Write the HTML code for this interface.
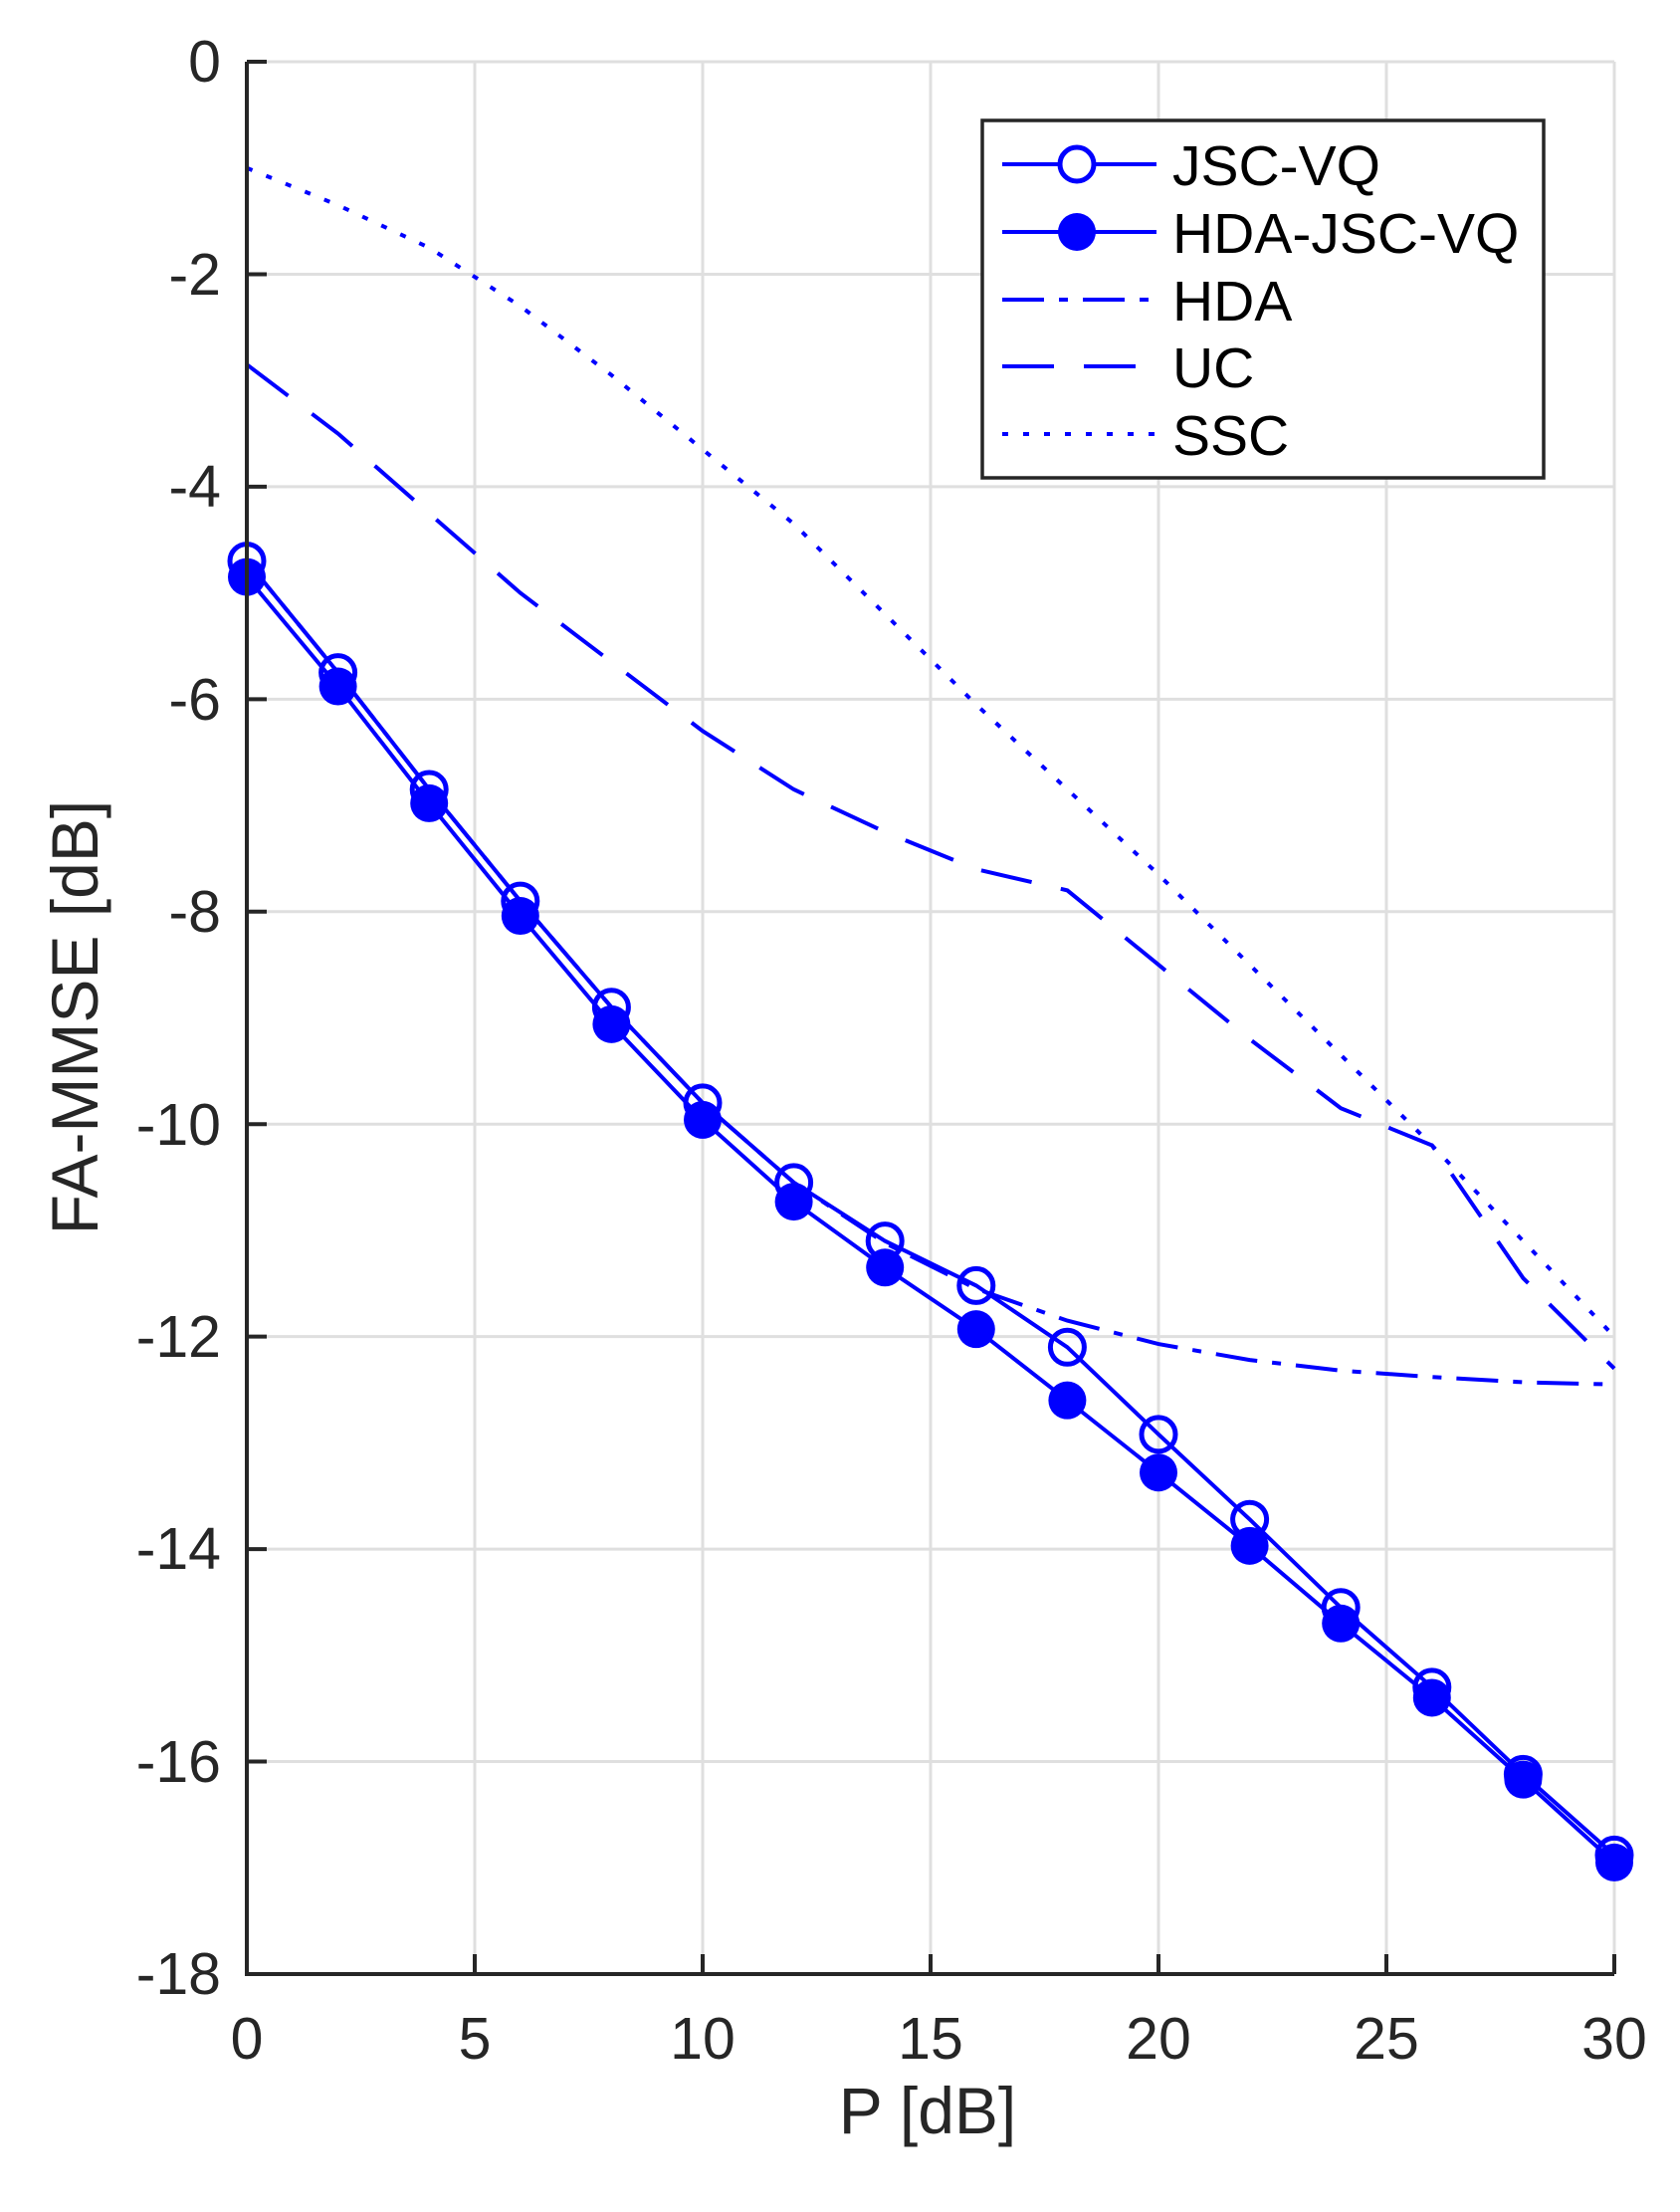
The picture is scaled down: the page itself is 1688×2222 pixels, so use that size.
<!DOCTYPE html>
<html><head><meta charset="utf-8"><style>
html,body{margin:0;padding:0;background:#fff;}
svg{display:block;font-family:"Liberation Sans",Arial,sans-serif;}
</style></head><body>
<svg id="s" width="1688" height="2222" viewBox="0 0 1688 2222" xmlns="http://www.w3.org/2000/svg">
<rect width="1688" height="2222" fill="#fff"/>
<g id="grid" stroke="#dfdfdf" stroke-width="3"></g>
<g id="data" fill="none" stroke="#0000ff" stroke-width="4"></g>
<g id="axes" stroke="#262626" stroke-width="4" fill="none"></g>
<g fill="#262626" font-size="59" text-anchor="end">
<text x="222" y="82">0</text>
<text x="222" y="296">-2</text>
<text x="222" y="509">-4</text>
<text x="222" y="723">-6</text>
<text x="222" y="936">-8</text>
<text x="222" y="1150">-10</text>
<text x="222" y="1363">-12</text>
<text x="222" y="1576">-14</text>
<text x="222" y="1790">-16</text>
<text x="222" y="2003">-18</text>
</g>
<g fill="#262626" font-size="59" text-anchor="middle">
<text x="248" y="2068">0</text>
<text x="477" y="2068">5</text>
<text x="706" y="2068">10</text>
<text x="935" y="2068">15</text>
<text x="1164" y="2068">20</text>
<text x="1393" y="2068">25</text>
<text x="1622" y="2068">30</text>
</g>
<text x="932" y="2143" font-size="66" fill="#262626" text-anchor="middle">P [dB]</text>
<text transform="translate(98,1022) rotate(-90)" font-size="66" fill="#262626" text-anchor="middle">FA-MMSE [dB]</text>
<rect x="987" y="121" width="564" height="359" fill="#fff" stroke="#262626" stroke-width="3.5"/>
<g stroke="#0000ff" stroke-width="4" fill="none">
<line x1="1007" y1="165" x2="1162" y2="165"/>
<circle cx="1082" cy="165" r="17" stroke-width="5" fill="#fff"/>
<line x1="1007" y1="233" x2="1162" y2="233"/>
<circle cx="1082" cy="233" r="19" fill="#0000ff" stroke="none"/>
<line x1="1007" y1="301" x2="1162" y2="301" stroke-dasharray="42,15,9,15"/>
<line x1="1007" y1="368" x2="1162" y2="368" stroke-dasharray="52,30"/>
<line x1="1007" y1="436" x2="1162" y2="436" stroke-dasharray="6,15"/>
</g>
<g fill="#000" font-size="57">
<text x="1178" y="186">JSC-VQ</text>
<text x="1178" y="254">HDA-JSC-VQ</text>
<text x="1178" y="322">HDA</text>
<text x="1178" y="389">UC</text>
<text x="1178" y="457">SSC</text>
</g>
</svg>
<script>
var NS="http://www.w3.org/2000/svg";
function X(x){return 248+x*45.8;}function Y(y){return 62-y*106.72;}
function el(p,t,a){var e=document.createElementNS(NS,t);for(var k in a)e.setAttribute(k,a[k]);document.getElementById(p).appendChild(e);return e;}
for(var i=1;i<=6;i++){el("grid","line",{x1:X(i*5),y1:62,x2:X(i*5),y2:1983});}
for(var j=0;j<9;j++){el("grid","line",{x1:248,y1:Y(-j*2),x2:1622,y2:Y(-j*2)});}
var xs=[0,2,4,6,8,10,12,14,16,18,20,22,24,26,28,30];
var jsc=[-4.7,-5.75,-6.85,-7.9,-8.9,-9.8,-10.55,-11.1,-11.52,-12.1,-12.92,-13.72,-14.55,-15.3,-16.12,-16.88];
var hj=[-4.85,-5.88,-6.98,-8.04,-9.06,-9.96,-10.73,-11.35,-11.93,-12.6,-13.28,-13.97,-14.7,-15.4,-16.17,-16.95];
var hda=[-4.7,-5.75,-6.85,-7.9,-8.9,-9.8,-10.55,-11.12,-11.55,-11.85,-12.07,-12.22,-12.32,-12.38,-12.43,-12.45];
var uc=[-2.85,-3.5,-4.25,-5.0,-5.65,-6.3,-6.85,-7.25,-7.6,-7.8,-8.5,-9.2,-9.85,-10.2,-11.45,-12.3];
var ssc=[-1.0,-1.35,-1.75,-2.3,-2.95,-3.65,-4.35,-5.2,-6.05,-6.85,-7.65,-8.5,-9.35,-10.2,-11.1,-12.0];
function pts(v){return xs.map(function(x,i){return X(x).toFixed(1)+","+Y(v[i]).toFixed(1);}).join(" ");}
el("data","polyline",{points:pts(ssc),"stroke-dasharray":"6,15"});
el("data","polyline",{points:pts(uc),"stroke-dasharray":"52,30"});
el("data","polyline",{points:pts(hda),"stroke-dasharray":"42,15,9,15"});
el("data","polyline",{points:pts(jsc)});
el("data","polyline",{points:pts(hj)});
xs.forEach(function(x,i){
 el("data","circle",{cx:X(x),cy:Y(jsc[i]),r:17,"stroke-width":5});
 el("data","circle",{cx:X(x),cy:Y(hj[i]),r:19,fill:"#0000ff",stroke:"none"});
});
el("axes","polyline",{points:"248,62 248,1983 1622,1983"});
for(var i=0;i<=6;i++){el("axes","line",{x1:X(i*5),y1:1983,x2:X(i*5),y2:1963});}
for(var j=0;j<=9;j++){el("axes","line",{x1:248,y1:Y(-j*2),x2:268,y2:Y(-j*2)});}
</script>
</body></html>
